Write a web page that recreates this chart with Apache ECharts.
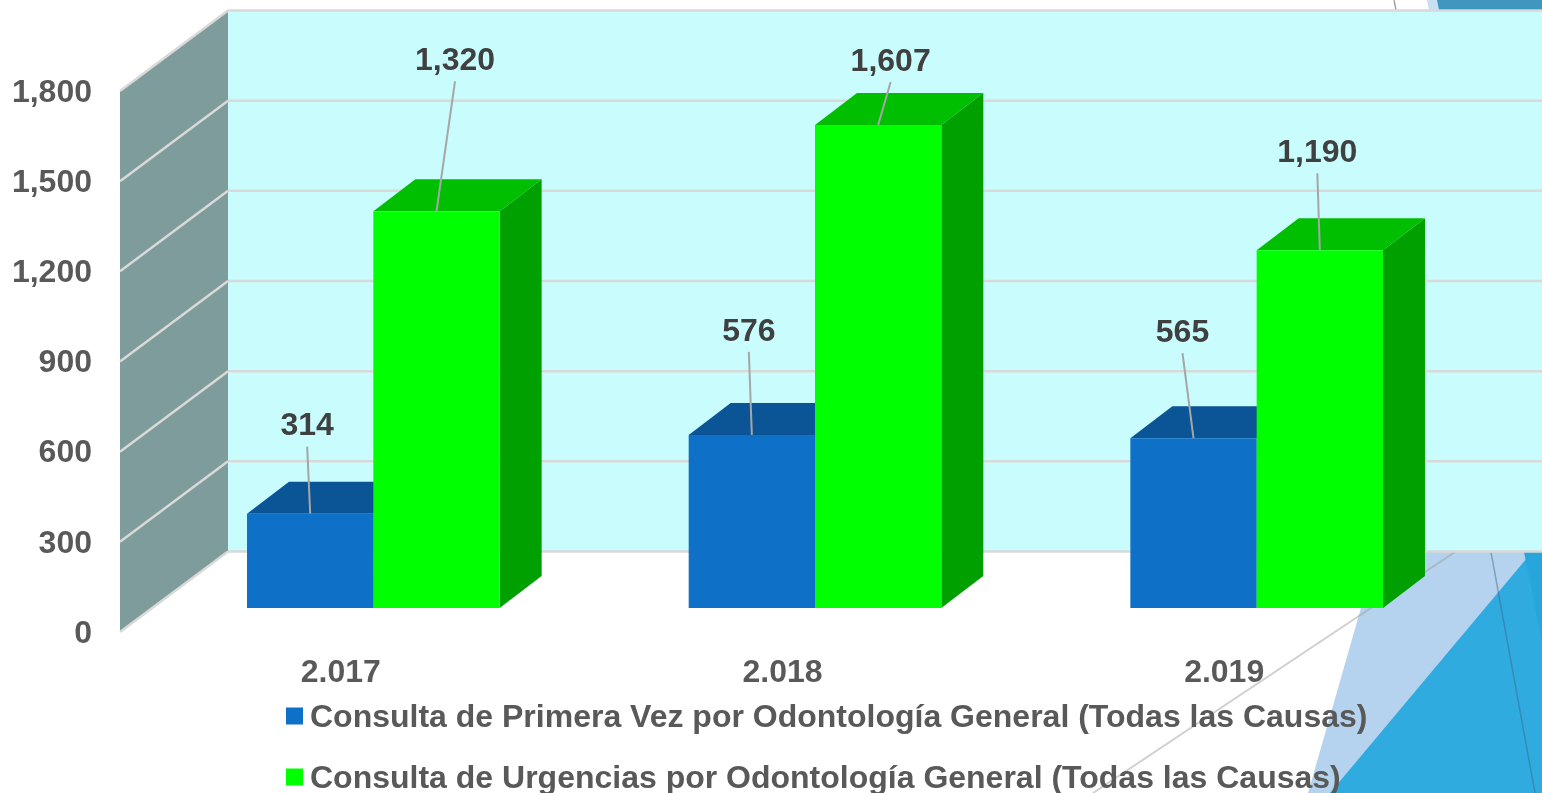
<!DOCTYPE html>
<html>
<head>
<meta charset="utf-8">
<title>Consultas Odontología General</title>
<script src="https://cdn.jsdelivr.net/npm/echarts@6/dist/echarts.min.js"></script>
<style>
    html, body { margin: 0; padding: 0; background: #fff; }
    #myChart { width: 1542px; height: 793px; }
</style>
</head>
<body>
<div id="myChart"></div>
<script>
const categories = ['2.017', '2.018', '2.019'];
const yTicks = [0, 300, 600, 900, 1200, 1500, 1800];
const primeraVez = [314, 576, 565];
const urgencias = [1320, 1607, 1190];
const primeraVezName = 'Consulta de Primera Vez por Odontología General (Todas las Causas)';
const urgenciasName = 'Consulta de Urgencias por Odontología General (Todas las Causas)';

// perspectiva: desplazamiento del fondo y de las barras respecto al plano frontal
const wallDepth = [108, -80.5];
const barShift = [32.5, -24];
const barDepth = [42, -32];
const barRatio = 0.286;

// punta de la linea guia de cada etiqueta, relativa al centro superior de la barra
const leaderBlue = [[-3, -67], [-3, -83], [-11, -85]];
const leaderGreen = [[18.5, -130], [12.5, -43], [-2.5, -77]];

function barRender(side, colors) {
    return function (params, api) {
        const idx = api.value(0);
        const top = api.coord([idx, api.value(1)]);
        const base = api.coord([idx, 0]);
        const w = api.size([1, 0])[0] * barRatio;
        const x0 = top[0] + barShift[0] + (side < 0 ? -w : 0);
        const x1 = x0 + w;
        const yT = top[1] + barShift[1];
        const yB = base[1] + barShift[1];
        const dx = barDepth[0];
        const dy = barDepth[1];
        return {
            type: 'group',
            children: [
                { type: 'polygon', shape: { points: [[x1, yT], [x1 + dx, yT + dy], [x1 + dx, yB + dy], [x1, yB]] }, style: { fill: colors[2] } },
                { type: 'polygon', shape: { points: [[x0, yT], [x0 + dx, yT + dy], [x1 + dx, yT + dy], [x1, yT]] }, style: { fill: colors[1] } },
                { type: 'rect', shape: { x: x0, y: yT, width: w, height: yB - yT }, style: { fill: colors[0] } }
            ]
        };
    };
}

// las etiquetas van en su propia serie para quedar encima de todas las barras
function labelRender(side, leaders) {
    return function (params, api) {
        const idx = api.value(0);
        const top = api.coord([idx, api.value(1)]);
        const w = api.size([1, 0])[0] * barRatio;
        const cx = top[0] + barShift[0] + side * w / 2;
        const yT = top[1] + barShift[1];
        const end = leaders[idx];
        return {
            type: 'group',
            children: [
                { type: 'line', shape: { x1: cx, y1: yT, x2: cx + end[0], y2: yT + end[1] }, style: { stroke: '#a6a6a6', lineWidth: 2 } },
                {
                    type: 'text',
                    style: {
                        x: cx + end[0], y: yT + end[1] - 20,
                        text: api.value(1).toLocaleString('en-US'),
                        align: 'center', verticalAlign: 'middle',
                        font: 'bold 32px "Liberation Sans"', fill: '#404040'
                    }
                }
            ]
        };
    };
}

function wallRender(params, api) {
    const chartW = api.getWidth();
    const p = api.coord([0, api.value(0)]);
    const left = params.coordSys.x;
    const front = [left, p[1]];
    const back = [left + wallDepth[0], p[1] + wallDepth[1]];
    const children = [];
    if (params.dataIndex === 0) {
        const topY = params.coordSys.y;
        const polyTop = [left, topY];
        const backTop = [left + wallDepth[0], topY + wallDepth[1]];
        children.push({
            type: 'rect',
            shape: { x: backTop[0], y: backTop[1], width: chartW - backTop[0], height: back[1] - backTop[1] },
            style: { fill: '#c8fcfd' }
        });
        children.push({
            type: 'polygon',
            shape: { points: [polyTop, backTop, back, front] },
            style: { fill: '#7f9c9c' }
        });
    }
    children.push({ type: 'line', shape: { x1: front[0], y1: front[1], x2: back[0], y2: back[1] }, style: { stroke: '#d9d9d9', lineWidth: 2.5 } });
    children.push({ type: 'line', shape: { x1: back[0], y1: back[1], x2: chartW, y2: back[1] }, style: { stroke: '#d9d9d9', lineWidth: 2.5 } });
    return { type: 'group', children: children };
}

function pairs(values) {
    return values.map(function (v, i) { return [i, v]; });
}

function legendFor(name, top) {
    return {
        data: [name],
        left: 286,
        top: top,
        icon: 'rect',
        itemWidth: 17,
        itemHeight: 17,
        padding: 0,
        selectedMode: false,
        formatter: function (n) { return '{t|' + n + '}'; },
        textStyle: {
            rich: { t: { fontSize: 32, fontWeight: 'bold', color: '#595959', padding: [4, 0, 0, 2] } }
        }
    };
}

const myChart = echarts.init(document.getElementById('myChart'));
myChart.setOption({
    animation: false,
    backgroundColor: '#fff',
    textStyle: { fontFamily: 'Liberation Sans' },
    grid: { left: 120, right: 97, top: 91, bottom: 161 },
    xAxis: {
        type: 'category',
        data: categories,
        axisLine: { show: false },
        axisTick: { show: false },
        axisLabel: { fontSize: 32, fontWeight: 'bold', color: '#595959', margin: 25 }
    },
    yAxis: {
        type: 'value',
        min: 0,
        max: 1800,
        interval: 300,
        axisLine: { show: false },
        axisTick: { show: false },
        splitLine: { show: false },
        axisLabel: {
            margin: 28,
            formatter: function (v) { return '{t|' + v.toLocaleString('en-US') + '}'; },
            rich: { t: { fontSize: 32, fontWeight: 'bold', color: '#595959', padding: [4, 0, 0, 0] } }
        }
    },
    legend: [legendFor(primeraVezName, 702), legendFor(urgenciasName, 763)],
    // adorno de la plantilla, por detras del grafico
    graphic: [
        { type: 'polygon', z: 0, shape: { points: [[1308, 793], [1377, 552], [1542, 552], [1542, 793]] }, style: { fill: '#b5d3ee' } },
        { type: 'polygon', z: 0, shape: { points: [[1330, 793], [1532, 552], [1542, 552], [1542, 793]] }, style: { fill: '#30abe0' } },
        { type: 'polygon', z: 0, shape: { points: [[1524, 552], [1542, 552], [1542, 643]] }, style: { fill: '#27a6dd' } },
        { type: 'line', z: 0, shape: { x1: 1491, y1: 552, x2: 1535, y2: 793 }, style: { stroke: 'rgba(60,100,130,0.45)', lineWidth: 1.5 } },
        { type: 'line', z: 0, shape: { x1: 1455, y1: 552, x2: 1093, y2: 793 }, style: { stroke: 'rgba(150,150,150,0.45)', lineWidth: 2 } },
        { type: 'polygon', z: 0, shape: { points: [[1427, 0], [1542, 0], [1542, 10], [1429, 10]] }, style: { fill: '#c9def2' } },
        { type: 'polygon', z: 0, shape: { points: [[1437, 0], [1542, 0], [1542, 10], [1439, 10]] }, style: { fill: '#3f97be' } },
        { type: 'line', z: 0, shape: { x1: 1394, y1: 0, x2: 1396, y2: 10 }, style: { stroke: '#a6a6a6', lineWidth: 1.5 } }
    ],
    series: [
        {
            name: 'pared',
            type: 'custom',
            data: yTicks,
            encode: { y: 0 },
            silent: true,
            renderItem: wallRender,
            clip: false,
            z: 1
        },
        {
            name: primeraVezName,
            type: 'custom',
            data: pairs(primeraVez),
            encode: { x: 0, y: 1 },
            itemStyle: { color: '#0e70c6' },
            renderItem: barRender(-1, ['#0e70c6', '#0b5596', '#0a4d88']),
            z: 2
        },
        {
            name: urgenciasName,
            type: 'custom',
            data: pairs(urgencias),
            encode: { x: 0, y: 1 },
            itemStyle: { color: '#00ff00' },
            renderItem: barRender(1, ['#00ff00', '#00be00', '#00a000']),
            z: 3
        },
        {
            name: 'etiquetas1',
            type: 'custom',
            data: pairs(primeraVez),
            encode: { x: 0, y: 1 },
            renderItem: labelRender(-1, leaderBlue),
            z: 4
        },
        {
            name: 'etiquetas2',
            type: 'custom',
            data: pairs(urgencias),
            encode: { x: 0, y: 1 },
            renderItem: labelRender(1, leaderGreen),
            z: 4
        }
    ]
});
</script>
</body>
</html>
